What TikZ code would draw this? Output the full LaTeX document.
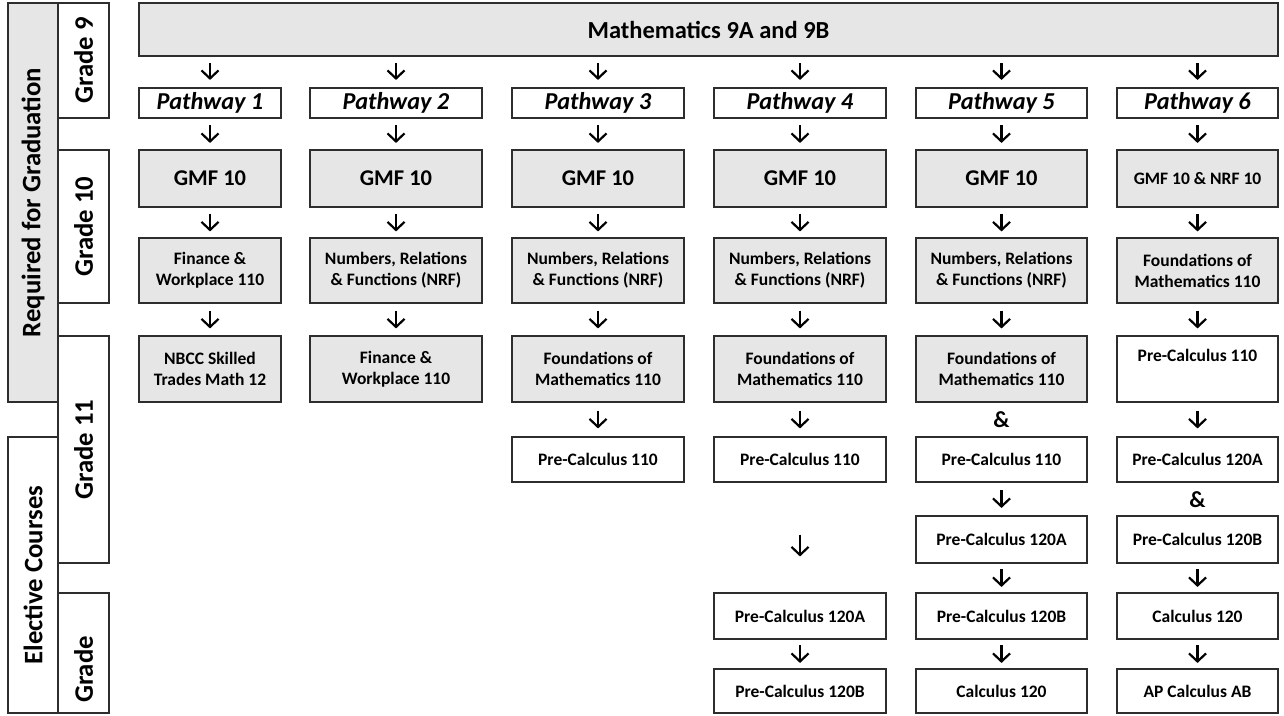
\documentclass[tikz,border=0pt]{standalone}
\usepackage{fontspec}
\setmainfont{Carlito}
\usetikzlibrary{arrows.meta}
\definecolor{boxgray}{RGB}{230,230,230}
\definecolor{edge}{RGB}{45,45,45}
\begin{document}
\begin{tikzpicture}[x=1pt,y=-1pt,
 base/.style={draw=edge, line width=1.1pt, inner sep=0pt, align=center, text=black},
 gbox/.style={base, fill=boxgray},
 wbox/.style={base, fill=white},
 small/.style={font=\fontsize{17.5}{21}\selectfont\bfseries},
 big/.style={font=\fontsize{22.5}{26}\selectfont\bfseries},
 pw/.style={font=\fontsize{24.3}{28}\selectfont\bfseries\itshape},
 side/.style={font=\fontsize{26.7}{31}\selectfont\bfseries, rotate=90},
 arr/.style={line width=2.2pt, draw=black, -{Straight Barb[length=8pt,width=17pt]}},
 amp/.style={font=\fontsize{23}{27}\selectfont\bfseries, inner sep=0pt},
]
\useasboundingbox (0,0) rectangle (1284,715);
% side labels
\node[gbox, side, minimum width=399pt, minimum height=50pt] (req) at (33,202.5) {Required for Graduation};
\node[wbox, side, minimum width=276pt, minimum height=50pt] (elec) at (33,575) {Elective Courses};
\node[wbox, side, minimum width=115pt, minimum height=51pt] (g9) at (83.5,60.5) {Grade 9};
\node[wbox, side, minimum width=153pt, minimum height=51pt] (g10) at (83.5,226.5) {Grade 10};
\node[wbox, side, minimum width=227pt, minimum height=51pt] (g11) at (83.5,449.5) {Grade 11};
\node[wbox, side, minimum width=120pt, minimum height=51pt] (g12) at (83.5,653) {Grade\hphantom{~12}};
% top
\node[gbox, minimum width=1139pt, minimum height=53pt, font=\fontsize{24.5}{28}\selectfont\bfseries] (math) at (708.5,29.5) {Mathematics 9A and 9B};
% column 1
\node[wbox, pw, minimum width=142pt, minimum height=30pt] (p1) at (210,103) {Pathway 1};
\node[gbox, big, minimum width=142pt, minimum height=57pt] (a1) at (210,178.5) {GMF 10};
\node[gbox, small, minimum width=142pt, minimum height=65pt] (b1) at (210,270.5) {Finance \&\\Workplace 110};
\node[gbox, small, minimum width=142pt, minimum height=66pt] (c1) at (210,369) {NBCC Skilled\\Trades Math 12};
% column 2
\node[wbox, pw, minimum width=172pt, minimum height=30pt] (p2) at (396,103) {Pathway 2};
\node[gbox, big, minimum width=172pt, minimum height=57pt] (a2) at (396,178.5) {GMF 10};
\node[gbox, small, minimum width=172pt, minimum height=65pt] (b2) at (396,270.5) {Numbers, Relations\\\& Functions (NRF)};
\node[gbox, small, minimum width=172pt, minimum height=66pt] (c2) at (396,369) {Finance \&\\Workplace 110};
% column 3
\node[wbox, pw, minimum width=172pt, minimum height=30pt] (p3) at (598,103) {Pathway 3};
\node[gbox, big, minimum width=172pt, minimum height=57pt] (a3) at (598,178.5) {GMF 10};
\node[gbox, small, minimum width=172pt, minimum height=65pt] (b3) at (598,270.5) {Numbers, Relations\\\& Functions (NRF)};
\node[gbox, small, minimum width=172pt, minimum height=66pt] (c3) at (598,369) {Foundations of\\Mathematics 110};
\node[wbox, small, minimum width=172pt, minimum height=45pt] (d3) at (598,459.5) {Pre-Calculus 110};
% column 4
\node[wbox, pw, minimum width=172pt, minimum height=30pt] (p4) at (800,103) {Pathway 4};
\node[gbox, big, minimum width=172pt, minimum height=57pt] (a4) at (800,178.5) {GMF 10};
\node[gbox, small, minimum width=172pt, minimum height=65pt] (b4) at (800,270.5) {Numbers, Relations\\\& Functions (NRF)};
\node[gbox, small, minimum width=172pt, minimum height=66pt] (c4) at (800,369) {Foundations of\\Mathematics 110};
\node[wbox, small, minimum width=172pt, minimum height=45pt] (d4) at (800,459.5) {Pre-Calculus 110};
\node[wbox, small, minimum width=172pt, minimum height=46pt] (f4) at (800,616) {Pre-Calculus 120A};
\node[wbox, small, minimum width=172pt, minimum height=44pt] (g4) at (800,691) {Pre-Calculus 120B};
% column 5
\node[wbox, pw, minimum width=171pt, minimum height=30pt] (p5) at (1001.5,103) {Pathway 5};
\node[gbox, big, minimum width=171pt, minimum height=57pt] (a5) at (1001.5,178.5) {GMF 10};
\node[gbox, small, minimum width=171pt, minimum height=65pt] (b5) at (1001.5,270.5) {Numbers, Relations\\\& Functions (NRF)};
\node[gbox, small, minimum width=171pt, minimum height=66pt] (c5) at (1001.5,369) {Foundations of\\Mathematics 110};
\node[amp] (and5) at (1001.5,420) {\&};
\node[wbox, small, minimum width=171pt, minimum height=45pt] (d5) at (1001.5,459.5) {Pre-Calculus 110};
\node[wbox, small, minimum width=171pt, minimum height=47pt] (e5) at (1001.5,539.5) {Pre-Calculus 120A};
\node[wbox, small, minimum width=171pt, minimum height=46pt] (f5) at (1001.5,616) {Pre-Calculus 120B};
\node[wbox, small, minimum width=171pt, minimum height=44pt] (g5) at (1001.5,691) {Calculus 120};
% column 6
\node[wbox, pw, minimum width=161pt, minimum height=30pt] (p6) at (1197.5,103) {Pathway 6};
\node[gbox, small, minimum width=161pt, minimum height=57pt] (a6) at (1197.5,178.5) {GMF 10 \& NRF 10};
\node[gbox, small, minimum width=161pt, minimum height=65pt] (b6) at (1197.5,270.5) {Foundations of\\Mathematics 110};
\node[wbox, small, minimum width=161pt, minimum height=66pt] (c6) at (1197.5,369) {Pre-Calculus 110\\\strut};
\node[wbox, small, minimum width=161pt, minimum height=45pt] (d6) at (1197.5,459.5) {Pre-Calculus 120A};
\node[amp] (and6) at (1197.5,500) {\&};
\node[wbox, small, minimum width=161pt, minimum height=47pt] (e6) at (1197.5,539.5) {Pre-Calculus 120B};
\node[wbox, small, minimum width=161pt, minimum height=46pt] (f6) at (1197.5,616) {Calculus 120};
\node[wbox, small, minimum width=161pt, minimum height=44pt] (g6) at (1197.5,691) {AP Calculus AB};
% arrows
\foreach \c in {1,...,6}{
  \draw[arr, shorten <=6.5pt, shorten >=7.5pt] (math.south -| p\c.north) -- (p\c.north);
  \draw[arr, shorten <=6.5pt, shorten >=6.5pt] (p\c.south) -- (a\c.north);
  \draw[arr, shorten <=6pt, shorten >=6pt] (a\c.south) -- (b\c.north);
  \draw[arr, shorten <=7pt, shorten >=7pt] (b\c.south) -- (c\c.north);
}
\foreach \c in {3,4,6}{
  \draw[arr, shorten <=8pt, shorten >=8pt] (c\c.south) -- (d\c.north);
}
\draw[arr, shorten <=7.5pt, shorten >=7.5pt] (d5.south) -- (e5.north);
\draw[arr, shorten <=52pt, shorten >=36pt] (d4.south) -- (f4.north);
\draw[arr, shorten <=5.5pt, shorten >=5.5pt] (e5.south) -- (f5.north);
\draw[arr, shorten <=5.5pt, shorten >=5.5pt] (e6.south) -- (f6.north);
\foreach \c in {4,5,6}{
  \draw[arr, shorten <=5.5pt, shorten >=5.5pt] (f\c.south) -- (g\c.north);
}
\end{tikzpicture}
\end{document}
